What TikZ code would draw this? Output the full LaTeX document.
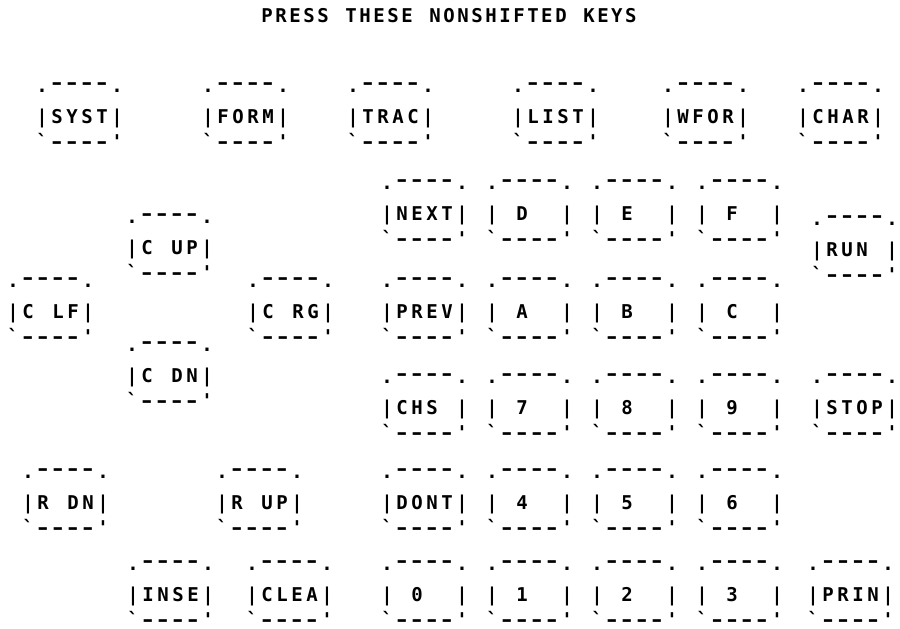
\documentclass[tikz,border=0pt]{standalone}
\usepackage{fontspec}
\newfontfamily\keyfont{DejaVu Sans Mono}

\newlength\cellwd \setlength\cellwd{15pt}
\newcommand\cell[1]{\makebox[\cellwd][c]{#1}}
\def\spread#1{\spreadA#1\relax}
\def\spreadA#1{\ifx#1\relax\else\cell{#1}\expandafter\spreadA\fi}
\newcommand\keystrut{\vrule width0pt height14pt depth4pt}
\newcommand\keydash{\scalebox{1.4}[1]{-}}
\newcommand\keydashup{\raisebox{3pt}{\keydash}}
\newcommand\keytext[1]{\vbox{\lineskiplimit=-50pt \baselineskip=31pt
    \hbox{\keystrut\cell{.}\cell{\keydashup}\cell{\keydashup}\cell{\keydashup}\cell{\keydashup}\cell{.}}
    \hbox{\keystrut\cell{|}\spread{#1}\cell{|}}
    \baselineskip=25pt
    \hbox{\keystrut\cell{`}\cell{\keydash}\cell{\keydash}\cell{\keydash}\cell{\keydash}\cell{'}}}}

\begin{document}
\begin{tikzpicture}[x=1pt, y=-1pt,
    every node/.style={font=\keyfont\bfseries\fontsize{19}{23}\selectfont, inner sep=0pt},
    key/.style={anchor=center}]
    \useasboundingbox (0,0) rectangle (900,629);

    \node (heading) at (449,16) {\setlength\cellwd{14pt}\spread{PRESS~THESE~NONSHIFTED~KEYS}};

    \node[key] (syst) at (79.5,115) {\keytext{SYST}};
    \node[key] (form) at (245.5,115) {\keytext{FORM}};
    \node[key] (trac) at (390.5,115) {\keytext{TRAC}};
    \node[key] (list) at (555.5,115) {\keytext{LIST}};
    \node[key] (wfor) at (705.5,115) {\keytext{WFOR}};
    \node[key] (char) at (840.5,115) {\keytext{CHAR}};

    \node[key] (next) at (424.5,212) {\keytext{NEXT}};
    \node[key] (kd) at (529.5,212) {\keytext{~D~~}};
    \node[key] (ke) at (634.5,212) {\keytext{~E~~}};
    \node[key] (kf) at (739.5,212) {\keytext{~F~~}};
    \node[key] (run) at (854.5,248) {\keytext{RUN~}};

    \node[key] (cup) at (169.5,246) {\keytext{C~UP}};
    \node[key] (clf) at (50.5,310) {\keytext{C~LF}};
    \node[key] (crg) at (290.5,310) {\keytext{C~RG}};
    \node[key] (cdn) at (169.5,374) {\keytext{C~DN}};

    \node[key] (prev) at (424.5,310) {\keytext{PREV}};
    \node[key] (ka) at (529.5,310) {\keytext{~A~~}};
    \node[key] (kb) at (634.5,310) {\keytext{~B~~}};
    \node[key] (kc) at (739.5,310) {\keytext{~C~~}};

    \node[key] (chs) at (424.5,406) {\keytext{CHS~}};
    \node[key] (k7) at (529.5,406) {\keytext{~7~~}};
    \node[key] (k8) at (634.5,406) {\keytext{~8~~}};
    \node[key] (k9) at (739.5,406) {\keytext{~9~~}};
    \node[key] (stop) at (854.5,406) {\keytext{STOP}};

    \node[key] (rdn) at (65.5,501) {\keytext{R~DN}};
    \node[key] (rup) at (259.5,501) {\keytext{R~UP}};
    \node[key] (dont) at (424.5,501) {\keytext{DONT}};
    \node[key] (k4) at (529.5,501) {\keytext{~4~~}};
    \node[key] (k5) at (634.5,501) {\keytext{~5~~}};
    \node[key] (k6) at (739.5,501) {\keytext{~6~~}};

    \node[key] (inse) at (170.5,593) {\keytext{INSE}};
    \node[key] (clea) at (289.5,593) {\keytext{CLEA}};
    \node[key] (k0) at (424.5,593) {\keytext{~0~~}};
    \node[key] (k1) at (529.5,593) {\keytext{~1~~}};
    \node[key] (k2) at (634.5,593) {\keytext{~2~~}};
    \node[key] (k3) at (739.5,593) {\keytext{~3~~}};
    \node[key] (prin) at (850.5,593) {\keytext{PRIN}};
\end{tikzpicture}
\end{document}
